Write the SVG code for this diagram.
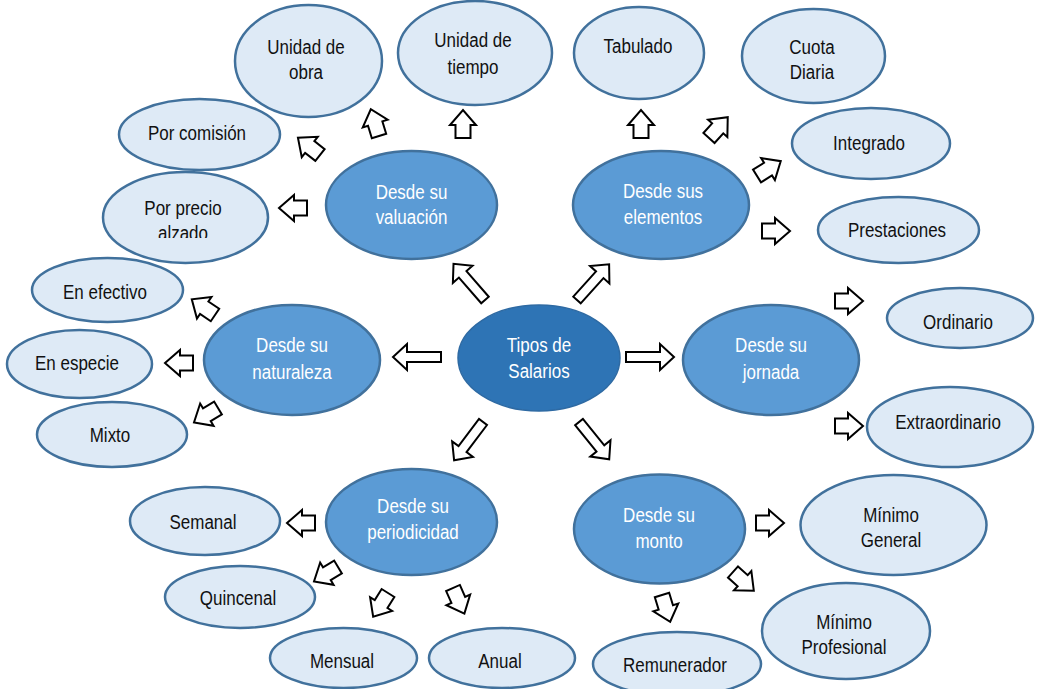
<svg xmlns="http://www.w3.org/2000/svg" width="1038" height="689" viewBox="0 0 1038 689">
<style>
.bg{fill:#ffffff}
.leaf{fill:#DEEAF6;stroke:#41719C;stroke-width:2.5}
.mid{fill:#5B9BD5;stroke:#41719C;stroke-width:2.5}
.root{fill:#2E74B5;stroke:#2E6AA3;stroke-width:1.5}
text{font-family:"Liberation Sans",Arial,sans-serif;font-size:17px;text-anchor:middle;dominant-baseline:central;transform-box:fill-box;transform-origin:center;transform:scaleY(1.15)}
.dk{fill:#111111}
.wt{fill:#ffffff}
.arr{fill:#ffffff;stroke:#000000;stroke-width:2;stroke-linejoin:miter}
</style>
<defs>
<path id="sa" d="M0,-7.5 H13 V-13 L28,0 L13,13 V7.5 H0 Z"/>
<path id="la" d="M0,-5 H34 V-13 L48,0 L34,13 V5 H0 Z"/>
<clipPath id="clipAlzado"><rect x="100" y="170" width="175" height="68"/></clipPath>
<clipPath id="clipCuota"><rect x="740" y="5" width="150" height="74"/></clipPath>
</defs>
<rect class="bg" x="0" y="0" width="1038" height="689"/>

<g id="connectors">
<use href="#la" class="arr" transform="translate(485,300) rotate(-131)"/>
<use href="#la" class="arr" transform="translate(577,300) rotate(-48)"/>
<use href="#la" class="arr" transform="translate(441,357) rotate(180)"/>
<use href="#la" class="arr" transform="translate(626,357)"/>
<use href="#la" class="arr" transform="translate(483,422) rotate(127)"/>
<use href="#la" class="arr" transform="translate(579,422) rotate(51)"/>

<use href="#sa" class="arr" transform="translate(379,136) rotate(-107)"/>
<use href="#sa" class="arr" transform="translate(463,138) rotate(-90)"/>
<use href="#sa" class="arr" transform="translate(320,155) rotate(-142)"/>
<use href="#sa" class="arr" transform="translate(307,208) rotate(180)"/>

<use href="#sa" class="arr" transform="translate(641,138) rotate(-90)"/>
<use href="#sa" class="arr" transform="translate(709,138) rotate(-48)"/>
<use href="#sa" class="arr" transform="translate(757,176) rotate(-32)"/>
<use href="#sa" class="arr" transform="translate(762,231)"/>

<use href="#sa" class="arr" transform="translate(835,301)"/>
<use href="#sa" class="arr" transform="translate(835,426)"/>

<use href="#sa" class="arr" transform="translate(215,315) rotate(-146)"/>
<use href="#sa" class="arr" transform="translate(193,363) rotate(180)"/>
<use href="#sa" class="arr" transform="translate(218,408) rotate(149)"/>

<use href="#sa" class="arr" transform="translate(315,523) rotate(180)"/>
<use href="#sa" class="arr" transform="translate(338,567) rotate(149)"/>
<use href="#sa" class="arr" transform="translate(388,593) rotate(122)"/>
<use href="#sa" class="arr" transform="translate(453,588) rotate(66)"/>

<use href="#sa" class="arr" transform="translate(756,523)"/>
<use href="#sa" class="arr" transform="translate(733,572) rotate(42)"/>
<use href="#sa" class="arr" transform="translate(662,595) rotate(73)"/>
</g>

<g id="n-root">
<ellipse class="root" cx="539" cy="358" rx="81" ry="53"/>
<text class="wt" x="539" y="345">Tipos de</text>
<text class="wt" x="539" y="371">Salarios</text>
</g>

<g id="n-valuacion">
<ellipse class="mid" cx="411.5" cy="205" rx="85.5" ry="54"/>
<text class="wt" x="411.5" y="192">Desde su</text>
<text class="wt" x="411.5" y="217">valuación</text>
</g>
<g id="n-elementos">
<ellipse class="mid" cx="661" cy="205" rx="88" ry="54"/>
<text class="wt" x="663" y="191">Desde sus</text>
<text class="wt" x="663" y="217">elementos</text>
</g>
<g id="n-naturaleza">
<ellipse class="mid" cx="292" cy="360" rx="88" ry="55"/>
<text class="wt" x="292" y="345">Desde su</text>
<text class="wt" x="292" y="372">naturaleza</text>
</g>
<g id="n-jornada">
<ellipse class="mid" cx="771" cy="360" rx="88" ry="55"/>
<text class="wt" x="771" y="345">Desde su</text>
<text class="wt" x="771" y="372">jornada</text>
</g>
<g id="n-periodicidad">
<ellipse class="mid" cx="411.5" cy="522" rx="85.5" ry="53"/>
<text class="wt" x="413" y="506">Desde su</text>
<text class="wt" x="413" y="532">periodicidad</text>
</g>
<g id="n-monto">
<ellipse class="mid" cx="659.5" cy="529" rx="85.5" ry="54.5"/>
<text class="wt" x="659" y="515">Desde su</text>
<text class="wt" x="659" y="541">monto</text>
</g>

<g id="n-unidad-obra">
<ellipse class="leaf" cx="308.5" cy="61" rx="73.5" ry="56"/>
<text class="dk" x="306" y="47">Unidad de</text>
<text class="dk" x="306" y="72">obra</text>
</g>
<g id="n-unidad-tiempo">
<ellipse class="leaf" cx="475" cy="53" rx="77" ry="52"/>
<text class="dk" x="473" y="40">Unidad de</text>
<text class="dk" x="473" y="67">tiempo</text>
</g>
<g id="n-tabulado">
<ellipse class="leaf" cx="639" cy="53" rx="65" ry="46"/>
<text class="dk" x="638" y="46">Tabulado</text>
</g>
<g id="n-cuota">
<ellipse class="leaf" cx="813.5" cy="56" rx="71.5" ry="47"/>
<g clip-path="url(#clipCuota)">
<text class="dk" x="812" y="47">Cuota</text>
<text class="dk" x="812" y="72">Diaria</text>
</g>
</g>
<g id="n-integrado">
<ellipse class="leaf" cx="871" cy="143.5" rx="79" ry="35.5"/>
<text class="dk" x="869" y="143">Integrado</text>
</g>
<g id="n-prestaciones">
<ellipse class="leaf" cx="898.5" cy="230" rx="80.5" ry="33"/>
<text class="dk" x="897" y="230">Prestaciones</text>
</g>
<g id="n-ordinario">
<ellipse class="leaf" cx="960" cy="318" rx="73" ry="30"/>
<text class="dk" x="958" y="322">Ordinario</text>
</g>
<g id="n-extraordinario">
<ellipse class="leaf" cx="950" cy="427" rx="83" ry="40"/>
<text class="dk" x="948" y="422">Extraordinario</text>
</g>
<g id="n-minimo-general">
<ellipse class="leaf" cx="893.5" cy="525" rx="93" ry="50"/>
<text class="dk" x="891" y="515">Mínimo</text>
<text class="dk" x="891" y="540">General</text>
</g>
<g id="n-minimo-profesional">
<ellipse class="leaf" cx="846" cy="631" rx="84" ry="48"/>
<text class="dk" x="844" y="622">Mínimo</text>
<text class="dk" x="844" y="647">Profesional</text>
</g>
<g id="n-remunerador">
<ellipse class="leaf" cx="677" cy="664" rx="84" ry="32"/>
<text class="dk" x="675" y="665">Remunerador</text>
</g>
<g id="n-anual">
<ellipse class="leaf" cx="502" cy="658" rx="73" ry="30"/>
<text class="dk" x="500" y="661">Anual</text>
</g>
<g id="n-mensual">
<ellipse class="leaf" cx="343.5" cy="658" rx="73.5" ry="30"/>
<text class="dk" x="342" y="661">Mensual</text>
</g>
<g id="n-quincenal">
<ellipse class="leaf" cx="240" cy="597" rx="75" ry="31"/>
<text class="dk" x="238" y="598">Quincenal</text>
</g>
<g id="n-semanal">
<ellipse class="leaf" cx="205" cy="521" rx="75" ry="34"/>
<text class="dk" x="203" y="522">Semanal</text>
</g>
<g id="n-efectivo">
<ellipse class="leaf" cx="107.5" cy="290" rx="75.5" ry="32"/>
<text class="dk" x="105" y="292">En efectivo</text>
</g>
<g id="n-especie">
<ellipse class="leaf" cx="79.5" cy="364" rx="72.5" ry="34"/>
<text class="dk" x="77" y="363">En especie</text>
</g>
<g id="n-mixto">
<ellipse class="leaf" cx="112" cy="434.5" rx="75" ry="32.5"/>
<text class="dk" x="110" y="435">Mixto</text>
</g>
<g id="n-comision">
<ellipse class="leaf" cx="199.5" cy="134.5" rx="80.5" ry="35.5"/>
<text class="dk" x="197" y="133">Por comisión</text>
</g>
<g id="n-precio">
<ellipse class="leaf" cx="185.5" cy="217.5" rx="82.5" ry="45.5"/>
<g clip-path="url(#clipAlzado)">
<text class="dk" x="183" y="208">Por precio</text>
<text class="dk" x="183" y="233">alzado</text>
</g>
</g>
</svg>
